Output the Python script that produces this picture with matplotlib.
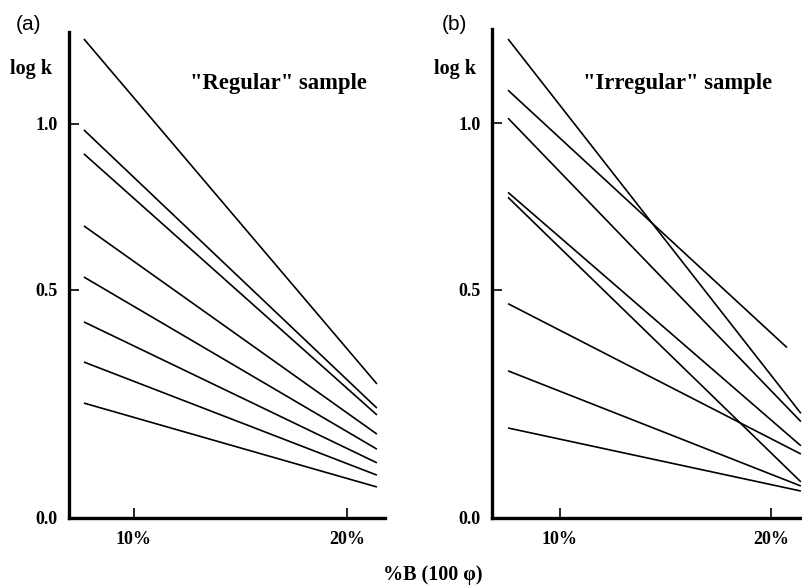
import numpy as np
import matplotlib
matplotlib.use("Agg")
import matplotlib.pyplot as plt

# ---- data ----
x_start_a = [7.65] * 8
x_end_a = [21.4] * 8
a_start = [1.256, 0.982, 0.910, 0.693, 0.539, 0.430, 0.342, 0.252]
a_end = [0.294, 0.241, 0.226, 0.184, 0.151, 0.121, 0.094, 0.068]

x_start_b = [7.54] * 8
x_end_b = [21.42, 20.76, 21.42, 21.42, 21.42, 21.42, 21.42, 21.42]
b_start = [1.253, 1.099, 1.015, 0.792, 0.777, 0.469, 0.322, 0.197]
b_end = [0.229, 0.373, 0.211, 0.158, 0.079, 0.140, 0.070, 0.059]

y_ticks = [0.0, 0.5, 1.0]
y_ticklabels = ["0.0", "0.5", "1.0"]
x_ticks = [10, 20]
x_ticklabels = ["10%", "20%"]

W, H = 803, 588
fig = plt.figure(figsize=(W / 100, H / 100), dpi=100)

SERIF = ["Liberation Serif", "DejaVu Serif"]
SANS = ["Liberation Sans", "DejaVu Sans"]


def fwd(v):
    v = np.asarray(v, dtype=float)
    return np.where(v <= 0.5, v * 456.0, 228.0 + (v - 0.5) * 332.0)


def inv(u):
    u = np.asarray(u, dtype=float)
    return np.where(u <= 228.0, u / 456.0, 0.5 + (u - 228.0) / 332.0)


def make_axes(left_px, right_px, top_px, bottom_px):
    return fig.add_axes([left_px / W, 1 - bottom_px / H,
                         (right_px - left_px) / W, (bottom_px - top_px) / H])


def style(ax, xlim, ylim):
    ax.set_yscale("function", functions=(fwd, inv))
    ax.set_xlim(*xlim)
    ax.set_ylim(*ylim)
    for s in ("top", "right"):
        ax.spines[s].set_visible(False)
    for s in ("left", "bottom"):
        ax.spines[s].set_linewidth(2.4)
    ax.set_yticks(y_ticks)
    ax.set_yticklabels(y_ticklabels)
    ax.set_xticks(x_ticks)
    ax.set_xticklabels(x_ticklabels)
    ax.yaxis.set_minor_locator(matplotlib.ticker.NullLocator())
    ax.tick_params(direction="in", length=7, width=1.2)
    ax.tick_params(axis="y", pad=8)
    ax.tick_params(axis="x", pad=9)
    for lab in ax.get_xticklabels() + ax.get_yticklabels():
        lab.set_fontfamily(SERIF)
        lab.set_fontweight("bold")
        lab.set_fontsize(13)


axa = make_axes(69, 385, 32, 518)
style(axa, (6.95, 21.78), (0.0, 1.277))
for xs, xe, ys, ye in zip(x_start_a, x_end_a, a_start, a_end):
    axa.plot([xs, xe], [ys, ye], color="black", lw=1.2, solid_capstyle="butt")

axb = make_axes(492, 803, 29, 518)
style(axb, (6.78, 21.52), (0.0, 1.283))
for xs, xe, ys, ye in zip(x_start_b, x_end_b, b_start, b_end):
    axb.plot([xs, xe], [ys, ye], color="black", lw=1.2, solid_capstyle="butt")


def ftext(px, py, s, **kw):
    fig.text(px / W, 1 - py / H, s, **kw)


ftext(29, 25, "(a)", family=SANS, fontsize=15, ha="center", va="center")
ftext(454, 25, "(b)", family=SANS, fontsize=15, ha="center", va="center")
ftext(31, 69, "log k", family=SERIF, fontweight="bold", fontsize=14.5, ha="center", va="center")
ftext(455, 69, "log k", family=SERIF, fontweight="bold", fontsize=14.5, ha="center", va="center")
ftext(278, 83, "\"Regular\" sample", family=SERIF, fontweight="bold", fontsize=16.3,
      ha="center", va="center")
ftext(678, 83, "\"Irregular\" sample", family=SERIF, fontweight="bold", fontsize=16.3,
      ha="center", va="center")
ftext(433, 575, "%B (100 \u03c6)", family=SERIF, fontweight="bold", fontsize=14.5,
      ha="center", va="center")

fig.savefig("out.png", dpi=100)
